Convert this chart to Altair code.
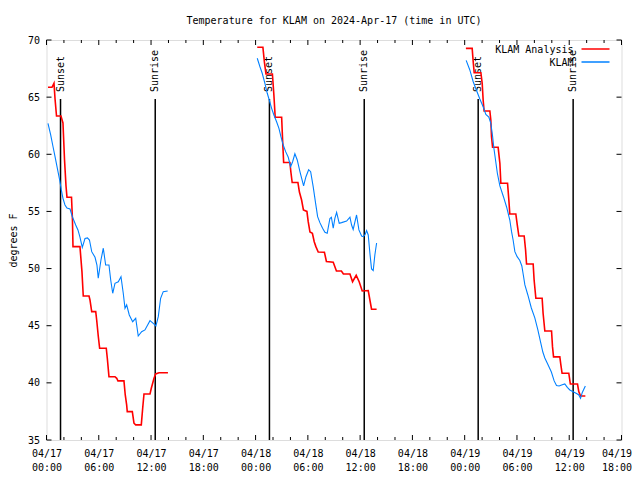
import altair as alt
import pandas as pd

MONO = "DejaVu Sans Mono"

# hours since 2024-04-17 00:00 UTC, temperatures in degrees F
red_h1 = [0.17, 0.63, 0.86, 0.98, 1.15, 1.66, 1.89, 2.07, 2.24, 2.35, 2.87, 2.98, 3.04, 3.84, 4.07,
          4.22, 4.88, 4.99, 5.19, 5.65, 5.76, 5.94, 6.10, 6.86, 6.98, 7.17, 7.86, 8.06, 8.20, 8.89,
          9.04, 9.20, 9.27, 9.85, 10.04, 10.24, 10.88, 11.04, 11.19, 11.88, 12.03, 12.34, 12.53, 12.91, 13.94]
red_t1 = [65.86, 65.86, 66.21, 64.84, 63.35, 63.35, 62.74, 59.50, 57.23, 56.24, 56.24, 54.25, 51.92, 51.92, 49.73,
          47.60, 47.60, 47.25, 46.23, 46.23, 45.50, 44.10, 43.03, 43.03, 42.15, 40.54, 40.54, 40.40, 40.17, 40.17,
          38.94, 38.07, 37.48, 37.48, 36.47, 36.32, 36.32, 37.78, 39.03, 39.03, 39.53, 40.40, 40.78, 40.89, 40.89]

red_h2 = [24.19, 24.84, 25.01, 25.19, 25.93, 26.10, 26.25, 26.99, 27.10, 27.22, 27.94, 28.05, 28.20, 28.86, 29.03,
          29.28, 29.49, 29.89, 30.04, 30.24, 30.52, 30.73, 30.92, 31.19, 31.90, 32.13, 32.91, 33.28, 33.85, 34.08,
          34.83, 35.13, 35.55, 35.89, 36.24, 36.93, 37.12, 37.31, 37.89]
red_t2 = [69.36, 69.36, 68.08, 67.03, 67.03, 65.19, 63.24, 63.24, 61.25, 59.28, 59.28, 58.45, 57.53, 57.53, 56.70,
          56.00, 55.13, 55.00, 54.10, 53.20, 53.09, 52.35, 51.92, 51.45, 51.43, 50.62, 50.55, 49.79, 49.79, 49.53,
          49.53, 48.85, 49.41, 48.85, 48.04, 48.08, 47.25, 46.44, 46.44]

red_h3 = [48.14, 48.86, 48.97, 49.09, 49.86, 50.01, 50.12, 50.23, 50.89, 51.00, 51.08, 51.20, 51.84, 52.04, 52.15,
          52.92, 53.07, 53.18, 53.87, 54.04, 54.22, 54.83, 54.99, 55.10, 55.86, 55.97, 56.17, 56.89, 57.00, 57.20,
          57.97, 58.08, 58.20, 58.92, 59.04, 59.18, 59.95, 60.13, 60.95, 61.10, 61.30, 61.85]
red_t3 = [69.27, 69.27, 68.16, 67.14, 67.14, 66.21, 64.75, 63.79, 63.79, 63.00, 61.54, 60.61, 60.61, 59.21, 57.46,
          57.46, 56.00, 54.78, 54.78, 53.81, 52.85, 52.85, 51.63, 50.40, 50.40, 49.00, 47.40, 47.40, 46.09, 44.54,
          44.54, 43.17, 42.27, 42.27, 41.57, 40.84, 40.84, 39.90, 39.90, 39.23, 38.85, 38.85]

blue_h1 = [0.17, 0.48, 0.75, 0.98, 1.24, 1.51, 1.70, 1.89, 2.12, 2.35, 2.70, 2.98, 3.35, 3.61, 3.84, 4.11,
           4.42, 4.70, 4.93, 5.19, 5.57, 5.79, 5.94, 6.25, 6.52, 6.79, 7.17, 7.37, 7.60, 7.86, 8.24, 8.55,
           8.81, 9.01, 9.20, 9.50, 9.89, 10.24, 10.53, 10.92, 11.30, 11.88, 12.25, 12.56, 12.83, 13.10, 13.40, 13.91]
blue_t1 = [62.71, 61.69, 60.66, 59.79, 58.78, 57.75, 56.88, 56.15, 55.56, 55.30, 55.21, 54.51, 53.81, 53.38, 52.76, 51.85,
           52.63, 52.68, 52.50, 51.48, 50.99, 50.31, 49.15, 50.75, 51.78, 50.31, 50.31, 49.00, 47.84, 48.71, 48.85, 49.29,
           47.84, 46.53, 46.82, 45.94, 45.35, 45.65, 44.10, 44.48, 44.63, 45.44, 45.21, 44.98, 45.79, 47.40, 47.98, 48.04]

blue_h2 = [24.19, 24.50, 24.76, 25.07, 25.34, 25.57, 25.84, 26.10, 26.41, 26.68, 26.91, 27.17, 27.45, 27.75, 28.02,
           28.25, 28.51, 28.78, 29.09, 29.51, 29.78, 30.09, 30.32, 30.61, 30.89, 31.12, 31.38, 31.69, 31.96, 32.22,
           32.53, 32.70, 32.91, 33.10, 33.30, 33.60, 33.87, 34.45, 34.83, 35.02, 35.20, 35.59, 35.86, 36.17, 36.35,
           36.55, 36.74, 36.93, 37.12, 37.31, 37.50, 37.69, 37.89]
blue_t2 = [68.40, 67.66, 67.09, 66.21, 65.34, 64.75, 64.02, 63.44, 62.85, 62.27, 61.54, 60.81, 60.23, 59.74, 58.92,
           59.35, 60.04, 59.50, 58.48, 57.23, 58.04, 58.65, 58.48, 57.17, 55.71, 54.54, 54.02, 53.53, 53.18, 53.09,
           54.38, 54.49, 53.53, 54.40, 54.91, 53.96, 54.02, 54.16, 54.49, 53.81, 53.42, 54.69, 53.38, 52.85, 52.79,
           52.94, 53.32, 52.94, 51.34, 49.97, 49.83, 51.19, 52.24]

blue_h3 = [48.17, 48.59, 48.97, 49.36, 49.74, 50.12, 50.43, 50.77, 51.00, 51.20, 51.35, 51.54, 51.75, 52.04, 52.44,
           52.81, 53.18, 53.38, 53.56, 53.76, 54.02, 54.33, 54.56, 54.73, 54.91, 55.25, 55.65, 56.05, 56.40, 56.68,
           56.97, 57.20, 57.58, 57.95, 58.27, 58.54, 58.84, 59.12, 59.49, 59.78, 60.07, 60.45, 60.84, 61.10, 61.30,
           61.50, 61.85]
blue_t3 = [68.22, 67.38, 66.37, 65.58, 64.84, 64.16, 63.48, 63.26, 62.71, 61.60, 60.55, 59.50, 58.34, 57.23, 56.31,
           55.39, 54.25, 53.23, 52.50, 51.48, 51.04, 50.71, 50.23, 49.44, 48.57, 47.69, 46.55, 45.68, 44.63, 43.67,
           42.70, 42.18, 41.57, 40.95, 40.17, 39.77, 39.73, 39.82, 39.90, 39.60, 39.38, 39.23, 39.07, 38.94, 38.65,
           39.16, 39.73]

series_names = ["KLAM Analysis", "KLAM"]
series_colors = ["#ff0000", "#0080ff"]

sun_hours = [1.61, 12.48, 25.59, 36.47, 49.55, 60.45]
sun_labels = ["Sunset", "Sunrise", "Sunset", "Sunrise", "Sunset", "Sunrise"]

x_major = list(range(0, 67, 6))
x_minor = [h for h in range(0, 67, 2) if h % 6 != 0]
y_major = list(range(35, 71, 5))

W, H = 575, 400

rows = []
for name, segs in [
    (series_names[0], [(red_h1, red_t1), (red_h2, red_t2), (red_h3, red_t3)]),
    (series_names[1], [(blue_h1, blue_t1), (blue_h2, blue_t2), (blue_h3, blue_t3)]),
]:
    for i, (hs, ts) in enumerate(segs):
        for h, t in zip(hs, ts):
            rows.append({"h": h, "temp": t, "series": name, "seg": f"{name}-{i}"})
df = pd.DataFrame(rows)

xscale = alt.Scale(domain=[0, 66], nice=False, zero=False)
yscale = alt.Scale(domain=[35, 70], nice=False, zero=False)

xaxis = alt.Axis(
    values=x_major,
    labelExpr="['04/' + (17 + floor(datum.value / 24)), ((datum.value % 24) < 10 ? '0' : '') + (datum.value % 24) + ':00']",
    ticks=False, domain=False, grid=False,
    labelFont=MONO, labelFontSize=10, labelColor="black",
    labelPadding=8, labelLineHeight=14, labelFlush=False, labelOverlap=False,
    labelOffset={"condition": {"test": "datum.value == 66", "value": -5}, "value": 0},
    title=None,
)
yaxis = alt.Axis(
    values=y_major, ticks=False, domain=False, grid=False,
    labelFont=MONO, labelFontSize=10, labelColor="black", labelPadding=7,
    title="degrees F", titleFont=MONO, titleFontSize=10, titleFontWeight="normal",
    titleColor="black", titleX=-33, titleY=200, titleAngle=270, titleBaseline="middle",
    titleAlign="center",
)

X = lambda f="h": alt.X(f"{f}:Q", scale=xscale, axis=xaxis)
Y = lambda f="temp": alt.Y(f"{f}:Q", scale=yscale, axis=yaxis)

sun_df = pd.DataFrame({"h": sun_hours, "label": sun_labels})
sun_rules = alt.Chart(sun_df).mark_rule(color="black", strokeWidth=1.5).encode(
    x=X(), y=alt.value(59), y2=alt.value(H)
)
sun_text = alt.Chart(sun_df).mark_text(
    angle=270, align="left", baseline="middle", font=MONO, fontSize=10, color="black"
).encode(x=X(), y=alt.value(52), text="label:N")

lines = alt.Chart(df).mark_line(clip=True).encode(
    x=X(), y=Y(),
    color=alt.Color("series:N", scale=alt.Scale(domain=series_names, range=series_colors), legend=None),
    strokeWidth=alt.StrokeWidth("series:N", scale=alt.Scale(domain=series_names, range=[1.6, 1.1]), legend=None),
    detail="seg:N",
    order="h:Q",
)

maj_df = pd.DataFrame({"h": x_major})
min_df = pd.DataFrame({"h": x_minor})
ydf = pd.DataFrame({"temp": y_major})
tick_style = dict(color="black", strokeWidth=1)
ticks = [
    alt.Chart(maj_df).mark_rule(**tick_style).encode(x=X(), y=alt.value(H), y2=alt.value(H - 5)),
    alt.Chart(maj_df).mark_rule(**tick_style).encode(x=X(), y=alt.value(0), y2=alt.value(5)),
    alt.Chart(min_df).mark_rule(**tick_style).encode(x=X(), y=alt.value(H), y2=alt.value(H - 3)),
    alt.Chart(min_df).mark_rule(**tick_style).encode(x=X(), y=alt.value(0), y2=alt.value(3)),
    alt.Chart(ydf).mark_rule(**tick_style).encode(y=Y(), x=alt.value(0), x2=alt.value(5)),
    alt.Chart(ydf).mark_rule(**tick_style).encode(y=Y(), x=alt.value(W), x2=alt.value(W - 5)),
]

legend_layers = []
for i, (name, col) in enumerate(zip(series_names, series_colors)):
    ldf = pd.DataFrame({"series": [name]})
    ypos = 9 + 13 * i
    legend_layers.append(
        alt.Chart(ldf).mark_text(align="right", baseline="middle", font=MONO, fontSize=10, color="black")
        .encode(text="series:N", x=alt.value(527), y=alt.value(ypos + 1))
    )
    legend_layers.append(
        alt.Chart(ldf).mark_rule(color=col, strokeWidth=1.5)
        .encode(x=alt.value(535), x2=alt.value(563), y=alt.value(ypos))
    )

chart = alt.layer(sun_rules, sun_text, lines, *ticks, *legend_layers).properties(
    width=W, height=H,
    title=alt.Title(
        "Temperature for KLAM on 2024-Apr-17 (time in UTC)",
        font=MONO, fontSize=10, fontWeight="normal", color="black", anchor="middle", offset=9,
    ),
    autosize=alt.AutoSizeParams(type="none"),
    padding={"left": 38.5, "top": 32, "right": 10, "bottom": 32},
).configure_view(stroke="black", strokeWidth=1).configure(background="white")

chart.save("out.html", embed_options={"renderer": "svg", "actions": False})
